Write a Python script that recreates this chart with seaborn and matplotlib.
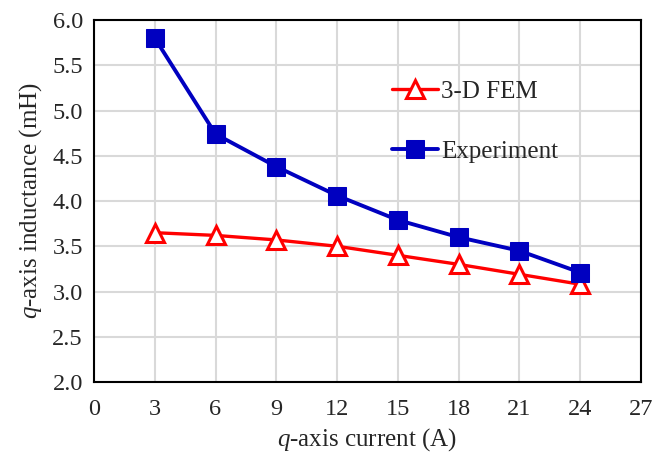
import matplotlib
matplotlib.use("Agg")
import matplotlib.pyplot as plt
import numpy as np
import pandas as pd
import seaborn as sns

# data
current = [3, 6, 9, 12, 15, 18, 21, 24]
fem = [3.65, 3.62, 3.57, 3.50, 3.40, 3.30, 3.19, 3.08]
experiment = [5.80, 4.74, 4.38, 4.06, 3.79, 3.60, 3.45, 3.21]
x_ticks = [0, 3, 6, 9, 12, 15, 18, 21, 24, 27]
y_ticks = [2.0, 2.5, 3.0, 3.5, 4.0, 4.5, 5.0, 5.5, 6.0]

sns.set_style("whitegrid")
plt.rcParams['font.family'] = ['Liberation Serif', 'DejaVu Serif']
plt.rcParams['mathtext.fontset'] = 'custom'
plt.rcParams['mathtext.it'] = 'Liberation Serif:italic'
plt.rcParams['mathtext.rm'] = 'Liberation Serif'

fig = plt.figure(figsize=(6.59, 4.55), dpi=100)
ax = fig.add_axes([0.1426, 0.1604, 0.8301, 0.7956])

df = pd.DataFrame({'current': current, 'fem': fem, 'exp': experiment})

sns.lineplot(data=df, x='current', y='fem', ax=ax, color='#ff0000', lw=2.4,
             marker='^', markersize=13, markerfacecolor='white',
             markeredgecolor='#ff0000', markeredgewidth=2.2, label='3-D FEM')
sns.lineplot(data=df, x='current', y='exp', ax=ax, color='#0000c0', lw=2.8,
             marker='s', markersize=13, markerfacecolor='#0000c0',
             markeredgecolor='#0000c0', label='Experiment')

ax.set_xlim(0, 27)
ax.set_ylim(2.0, 6.0)
ax.set_xticks(x_ticks)
ax.set_yticks(y_ticks)
ax.set_yticklabels([f"{v:.1f}" for v in y_ticks])
ax.tick_params(labelsize=17.5, length=0)
ax.tick_params(axis='x', pad=12)
ax.tick_params(axis='y', pad=8)
ax.grid(True, color='#d9d9d9', lw=1.5)
for s in ax.spines.values():
    s.set_color('black')
    s.set_linewidth(1.5)

ax.set_xlabel(r'$q$-axis current (A)', fontsize=18, labelpad=5)
ax.set_ylabel(r'$q$-axis inductance (mH)', fontsize=18, labelpad=6)

leg = ax.legend(loc='upper left', bbox_to_anchor=(0.545, 0.833), frameon=False,
                fontsize=18, handlelength=1.85, handletextpad=0.1,
                labelspacing=1.5, borderpad=0, borderaxespad=0)

fig.savefig('out.png', dpi=100)
